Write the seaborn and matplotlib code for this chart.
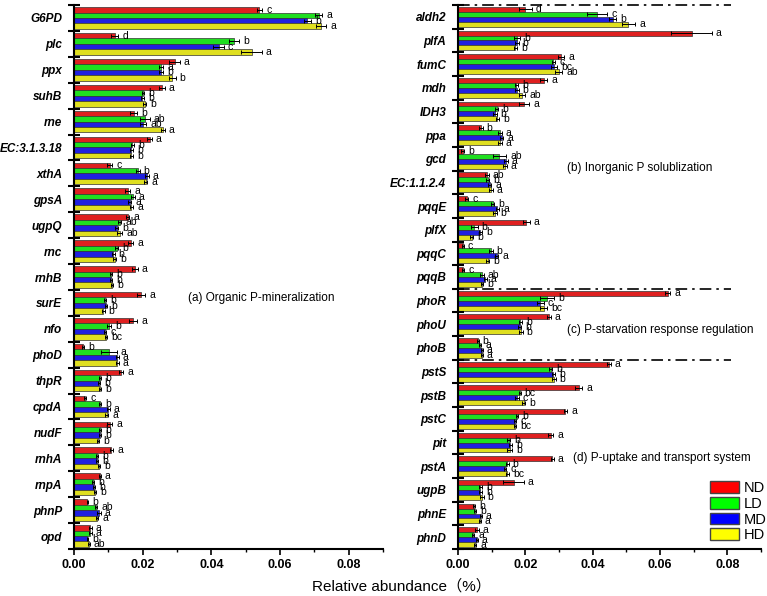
import numpy as np
import pandas as pd
import seaborn as sns
import matplotlib.pyplot as plt
from matplotlib.patches import Patch
from matplotlib.ticker import MultipleLocator, FixedLocator, FormatStrFormatter

GROUPS = ['ND', 'LD', 'MD', 'HD']
PALETTE = ['#ff0000', '#00ff00', '#0000ff', '#ffff00']

# (a) organic P mineralization
left_genes = ['G6PD', 'plc', 'ppx', 'suhB', 'rne', 'EC:3.1.3.18', 'xthA', 'gpsA',
              'ugpQ', 'rnc', 'rnhB', 'surE', 'nfo', 'phoD', 'thpR', 'cpdA',
              'nudF', 'rnhA', 'rnpA', 'phnP', 'opd']
left_values = [
    [0.0540, 0.0713, 0.0680, 0.0720],
    [0.0119, 0.0467, 0.0421, 0.0517],
    [0.0293, 0.0254, 0.0254, 0.0286],
    [0.0256, 0.0201, 0.0199, 0.0206],
    [0.0174, 0.0206, 0.0201, 0.0259],
    [0.0220, 0.0170, 0.0167, 0.0167],
    [0.0104, 0.0186, 0.0213, 0.0209],
    [0.0156, 0.0172, 0.0162, 0.0167],
    [0.0156, 0.0133, 0.0124, 0.0133],
    [0.0165, 0.0124, 0.0114, 0.0119],
    [0.0177, 0.0109, 0.0109, 0.0112],
    [0.0196, 0.0090, 0.0093, 0.0085],
    [0.0172, 0.0102, 0.0090, 0.0093],
    [0.0027, 0.0102, 0.0126, 0.0126],
    [0.0138, 0.0075, 0.0073, 0.0075],
    [0.0032, 0.0077, 0.0100, 0.0095],
    [0.0104, 0.0075, 0.0077, 0.0071],
    [0.0109, 0.0068, 0.0066, 0.0073],
    [0.0075, 0.0056, 0.0058, 0.0061],
    [0.0039, 0.0064, 0.0073, 0.0068],
    [0.0048, 0.0048, 0.0039, 0.0044],
]
left_errors = [
    [0.0008, 0.0010, 0.0010, 0.0015],
    [0.0010, 0.0015, 0.0015, 0.0030],
    [0.0015, 0.0005, 0.0005, 0.0010],
    [0.0008, 0.0004, 0.0004, 0.0004],
    [0.0010, 0.0015, 0.0010, 0.0005],
    [0.0006, 0.0004, 0.0004, 0.0004],
    [0.0008, 0.0005, 0.0005, 0.0005],
    [0.0008, 0.0005, 0.0005, 0.0005],
    [0.0005, 0.0005, 0.0005, 0.0008],
    [0.0008, 0.0004, 0.0004, 0.0004],
    [0.0008, 0.0003, 0.0003, 0.0003],
    [0.0012, 0.0004, 0.0004, 0.0004],
    [0.0012, 0.0006, 0.0004, 0.0004],
    [0.0003, 0.0022, 0.0004, 0.0004],
    [0.0006, 0.0003, 0.0003, 0.0003],
    [0.0004, 0.0003, 0.0004, 0.0004],
    [0.0008, 0.0003, 0.0003, 0.0003],
    [0.0005, 0.0003, 0.0003, 0.0003],
    [0.0003, 0.0003, 0.0003, 0.0003],
    [0.0002, 0.0004, 0.0005, 0.0003],
    [0.0003, 0.0003, 0.0002, 0.0002],
]
left_letters = ['c a b a', 'd b c a', 'a a b b', 'a b b b', 'b ab ab a', 'a b b b',
                'c b a a', 'a a a a', 'a ab b ab', 'a b b b', 'a b b b', 'a b b b',
                'a b c bc', 'b a a a', 'a b b b', 'c b a a', 'a b b b', 'a b b b',
                'a b b b', 'b ab a a', 'a a b ab']

# (b)-(d) inorganic P solubilization, starvation regulation, uptake
right_genes = ['aldh2', 'plfA', 'fumC', 'mdh', 'IDH3', 'ppa', 'gcd', 'EC:1.1.2.4',
               'pqqE', 'plfX', 'pqqC', 'pqqB', 'phoR', 'phoU', 'phoB', 'pstS',
               'pstB', 'pstC', 'pit', 'pstA', 'ugpB', 'phnE', 'phnD']
right_values = [
    [0.0200, 0.0414, 0.0459, 0.0506],
    [0.0694, 0.0175, 0.0175, 0.0170],
    [0.0306, 0.0283, 0.0285, 0.0299],
    [0.0255, 0.0173, 0.0175, 0.0190],
    [0.0197, 0.0115, 0.0110, 0.0117],
    [0.0068, 0.0125, 0.0130, 0.0125],
    [0.0014, 0.0123, 0.0143, 0.0140],
    [0.0086, 0.0088, 0.0094, 0.0098],
    [0.0026, 0.0103, 0.0117, 0.0110],
    [0.0203, 0.0048, 0.0066, 0.0041],
    [0.0014, 0.0098, 0.0115, 0.0088],
    [0.0016, 0.0071, 0.0081, 0.0071],
    [0.0623, 0.0265, 0.0245, 0.0255],
    [0.0270, 0.0185, 0.0183, 0.0187],
    [0.0058, 0.0066, 0.0071, 0.0071],
    [0.0449, 0.0275, 0.0283, 0.0285],
    [0.0359, 0.0183, 0.0175, 0.0195],
    [0.0319, 0.0175, 0.0170, 0.0170],
    [0.0275, 0.0150, 0.0155, 0.0153],
    [0.0280, 0.0147, 0.0140, 0.0147],
    [0.0165, 0.0066, 0.0066, 0.0071],
    [0.0048, 0.0051, 0.0068, 0.0064],
    [0.0056, 0.0046, 0.0056, 0.0051],
]
right_errors = [
    [0.0020, 0.0030, 0.0010, 0.0020],
    [0.0060, 0.0010, 0.0005, 0.0005],
    [0.0010, 0.0005, 0.0010, 0.0010],
    [0.0010, 0.0005, 0.0005, 0.0010],
    [0.0015, 0.0005, 0.0005, 0.0005],
    [0.0005, 0.0005, 0.0005, 0.0005],
    [0.0005, 0.0020, 0.0005, 0.0005],
    [0.0005, 0.0005, 0.0005, 0.0005],
    [0.0005, 0.0005, 0.0005, 0.0005],
    [0.0010, 0.0010, 0.0005, 0.0005],
    [0.0003, 0.0005, 0.0005, 0.0005],
    [0.0003, 0.0005, 0.0005, 0.0003],
    [0.0008, 0.0020, 0.0010, 0.0010],
    [0.0005, 0.0005, 0.0005, 0.0005],
    [0.0003, 0.0003, 0.0003, 0.0003],
    [0.0005, 0.0005, 0.0005, 0.0005],
    [0.0010, 0.0003, 0.0005, 0.0005],
    [0.0005, 0.0003, 0.0003, 0.0003],
    [0.0008, 0.0005, 0.0005, 0.0008],
    [0.0005, 0.0003, 0.0003, 0.0005],
    [0.0030, 0.0005, 0.0005, 0.0005],
    [0.0003, 0.0003, 0.0003, 0.0003],
    [0.0005, 0.0003, 0.0003, 0.0003],
]
right_letters = ['d c b a', 'a b b b', 'a c bc ab', 'a b b ab', 'a b b b', 'b a a a',
                 'b ab a a', 'ab b a a', 'c b a b', 'a b b b', 'c b a b', 'c ab a b',
                 'a b c bc', 'a b b b', 'b a a a', 'a b b b', 'a bc c b', 'a b c bc',
                 'a b b b', 'a b c bc', 'a b b b', 'b b a a', 'a a a a']

plt.rcParams['font.family'] = ['Liberation Sans', 'DejaVu Sans', 'Noto Sans CJK SC']


def long_frame(genes, values):
    rows = []
    for gene, vals in zip(genes, values):
        for grp, v in zip(GROUPS, vals):
            rows.append({'gene': gene, 'group': grp, 'value': v})
    return pd.DataFrame(rows)


def draw_panel(ax, genes, values, errors, letters):
    df = long_frame(genes, values)
    sns.barplot(
        data=df, y='gene', x='value', hue='group', hue_order=GROUPS, order=genes,
        palette=PALETTE, orient='h', width=0.84, edgecolor='#333333',
        linewidth=0.5, errorbar=None, legend=False, ax=ax
    )
    # error bars and significance letters on top of each bar
    bar_sets = list(ax.containers)
    for k, cont in enumerate(bar_sets):
        for i, bar in enumerate(cont.patches):
            w = bar.get_width()
            yc = bar.get_y() + bar.get_height() / 2
            e = errors[i][k]
            ax.errorbar(w, yc, xerr=e, fmt='none', ecolor='black',
                        elinewidth=0.7, capsize=1.5, capthick=0.7)
            ax.text(w + e + 0.0012, yc, letters[i].split()[k], fontsize=7.5,
                    ha='left', va='center')

    n = len(genes)
    ax.set_xlim(0, 0.09)
    ax.set_ylim(n - 0.5, -0.5)
    ax.set_xlabel('')
    ax.set_ylabel('')
    for s in ['top', 'right']:
        ax.spines[s].set_visible(False)
    for s in ['left', 'bottom']:
        ax.spines[s].set_linewidth(1.5)

    ax.set_yticks(range(n))
    ax.set_yticklabels(genes, fontweight='bold', style='italic', fontsize=8.5)
    ax.yaxis.set_minor_locator(FixedLocator(np.arange(-0.5, n, 1)))
    ax.tick_params(axis='y', which='major', length=0, pad=8.5)
    ax.tick_params(axis='y', which='minor', length=8, width=1.5, direction='inout')

    ax.xaxis.set_major_locator(MultipleLocator(0.02))
    ax.xaxis.set_minor_locator(MultipleLocator(0.01))
    ax.xaxis.set_major_formatter(FormatStrFormatter('%.2f'))
    ax.tick_params(axis='x', which='major', length=4, width=1.2, labelsize=9)
    ax.tick_params(axis='x', which='minor', length=2.5, width=1)
    for lab in ax.get_xticklabels():
        lab.set_fontweight('bold')


fig = plt.figure(figsize=(7.67, 5.96), dpi=100)
ax1 = fig.add_axes([74 / 767, 47 / 596, 309 / 767, 544 / 596])
ax2 = fig.add_axes([458 / 767, 47 / 596, 303 / 767, 544 / 596])

draw_panel(ax1, left_genes, left_values, left_errors, left_letters)
draw_panel(ax2, right_genes, right_values, right_errors, right_letters)

# section separators on the right panel
for yb in [-0.5, 11.5, 14.5]:
    ax2.axhline(yb, xmin=0, xmax=0.9, color='black', lw=1.2,
                ls=(0, (7, 3, 1.5, 3)), clip_on=False)

ax1.text(0.369, 0.461, '(a) Organic P-mineralization', transform=ax1.transAxes,
         fontsize=8.5, ha='left', va='center')
ax2.text(0.359, 0.70, '(b) Inorganic P solublization', transform=ax2.transAxes,
         fontsize=8.5, ha='left', va='center')
ax2.text(0.359, 0.403, '(c) P-starvation response regulation', transform=ax2.transAxes,
         fontsize=8.5, ha='left', va='center')
ax2.text(0.378, 0.167, '(d) P-uptake and transport system', transform=ax2.transAxes,
         fontsize=8.5, ha='left', va='center')

handles = [Patch(facecolor=c, edgecolor='#444444', linewidth=1, label=g)
           for c, g in zip(PALETTE, GROUPS)]
ax2.legend(handles=handles, loc='upper left', bbox_to_anchor=(0.832, 0.125),
           frameon=False, fontsize=10.5, handlelength=2.0, handleheight=0.85,
           labelspacing=0.12, handletextpad=0.3, borderpad=0, borderaxespad=0)

fig.text(0.524, 0.017, 'Relative abundance（%）', ha='center', va='center', fontsize=11)

fig.savefig('out.png', dpi=100)
